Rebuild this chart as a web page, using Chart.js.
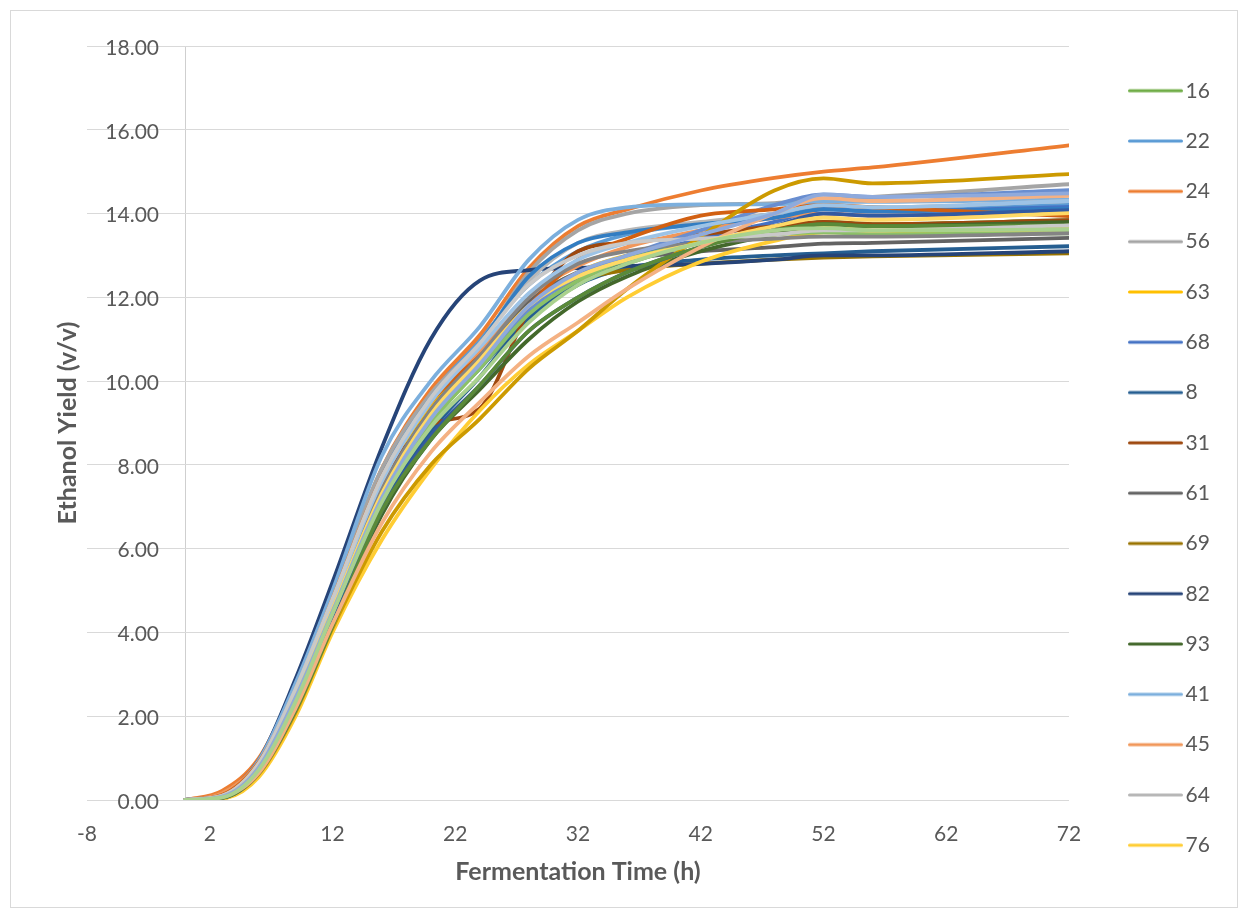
<!DOCTYPE html>
<html>
<head>
<meta charset="utf-8">
<script src="https://cdn.jsdelivr.net/npm/chart.js@4.4.1/dist/chart.umd.min.js"></script>
<style>
  html, body { margin: 0; padding: 0; background: #fff; }
  #wrap { position: relative; width: 1248px; height: 918px; }
  #frame { position: absolute; left: 10px; top: 10px; width: 1226px; height: 896px; border: 1px solid #d9d9d9; }
  #c { position: absolute; left: 0; top: 0; }
</style>
</head>
<body>
<div id="wrap">
  <div id="frame"></div>
  <canvas id="c" width="1248" height="918"></canvas>
</div>
<script>
// sampling times (h)
const times = [0, 3, 6, 9, 12, 16, 20, 24, 28, 32, 36, 42, 48, 52, 56, 72];

// x / y tick labels
const xTicks = [-8, 2, 12, 22, 32, 42, 52, 62, 72];
const yTicks = [0, 2, 4, 6, 8, 10, 12, 14, 16, 18];

// strain names (only the first 16 fit in the legend)
const seriesNames = ['16', '22', '24', '56', '63', '68', '8', '31', '61', '69', '82', '93', '41', '45', '64', '76',
  '27', '35', '12', '47', '50', '88', '90', '19', '39', '52', '77', '15', '58', '73'];

// ethanol yield (v/v) per strain
const s16 = [0, 0.05, 0.7, 2.2, 4.3, 7.1, 9.0, 10.3, 11.5, 12.3, 12.8, 13.3, 13.6, 13.8, 13.75, 13.84];
const s22 = [0, 0.1, 0.85, 2.6, 4.8, 7.8, 9.7, 11.0, 12.3, 13.1, 13.5, 13.75, 14.0, 14.15, 14.1, 14.22];
const s24 = [0, 0.22, 1.0, 2.75, 4.9, 7.9, 9.8, 11.1, 12.7, 13.7, 14.1, 14.55, 14.85, 15.0, 15.1, 15.63];
const s56 = [0, 0.12, 0.95, 2.75, 4.95, 7.9, 9.7, 10.9, 12.6, 13.6, 14.0, 14.2, 14.25, 14.35, 14.4, 14.7];
const s63 = [0, 0.08, 0.8, 2.5, 4.6, 7.5, 9.4, 10.6, 11.9, 12.6, 13.0, 13.3, 13.5, 13.65, 13.6, 13.72];
const s68 = [0, 0.06, 0.72, 2.3, 4.4, 7.2, 9.1, 10.3, 11.6, 12.4, 12.9, 13.4, 13.8, 14.1, 14.05, 14.16];
const s8  = [0, 0.04, 0.62, 2.1, 4.2, 7.0, 8.8, 10.1, 11.5, 12.3, 12.7, 12.9, 13.0, 13.05, 13.1, 13.22];
const s31 = [0, 0.1, 0.85, 2.6, 4.7, 7.6, 8.95, 9.35, 11.7, 13.1, 13.3, 13.5, 13.7, 13.8, 13.75, 13.84];
const s61 = [0, 0.08, 0.8, 2.5, 4.6, 7.4, 9.3, 10.6, 11.9, 12.6, 12.9, 13.1, 13.2, 13.28, 13.3, 13.42];
const s69 = [0, 0.06, 0.75, 2.4, 4.5, 7.3, 9.2, 10.5, 11.8, 12.4, 12.65, 12.8, 12.9, 12.95, 12.98, 13.05];
const s82 = [0, 0.15, 0.95, 2.9, 5.2, 8.4, 11.0, 12.4, 12.65, 12.7, 12.75, 12.8, 12.9, 13.0, 13.0, 13.1];
const s93 = [0, 0.04, 0.62, 2.05, 4.1, 6.8, 8.6, 9.8, 11.0, 11.9, 12.5, 13.1, 13.5, 13.75, 13.7, 13.8];
const s41 = [0, 0.12, 0.95, 2.8, 5.0, 8.2, 10.0, 11.3, 12.9, 13.85, 14.15, 14.22, 14.22, 14.28, 14.28, 14.34];
const s45 = [0, 0.16, 0.9, 2.55, 4.7, 7.6, 9.5, 10.7, 12.0, 12.75, 13.2, 13.6, 13.9, 14.0, 13.95, 14.01];
const s64 = [0, 0.1, 0.88, 2.65, 4.8, 7.7, 9.6, 10.9, 12.4, 13.3, 13.6, 13.8, 14.0, 14.2, 14.15, 14.3];
const s76 = [0, 0.03, 0.55, 2.0, 4.0, 6.2, 7.9, 9.3, 10.4, 11.2, 12.0, 12.85, 13.35, 13.55, 13.55, 13.62];
const s27 = [0, 0.08, 0.78, 2.45, 4.55, 7.3, 9.2, 10.4, 11.7, 12.5, 13.0, 13.6, 14.2, 14.46, 14.4, 14.56];
const s35 = [0, 0.06, 0.72, 2.35, 4.45, 7.2, 9.0, 10.3, 11.6, 12.4, 12.9, 13.3, 13.5, 13.55, 13.5, 13.53];
const s12 = [0, 0.1, 0.85, 2.6, 4.75, 7.7, 9.6, 10.9, 12.5, 13.3, 13.55, 13.75, 13.9, 14.1, 14.05, 14.12];
const s47 = [0, 0.12, 0.9, 2.6, 4.8, 7.7, 9.5, 10.6, 11.8, 12.9, 13.4, 13.95, 14.1, 14.2, 14.15, 13.94];
const s50 = [0, 0.08, 0.8, 2.5, 4.6, 7.4, 9.3, 10.6, 12.0, 12.8, 13.1, 13.3, 13.4, 13.45, 13.45, 13.53];
const s88 = [0, 0.05, 0.62, 2.1, 4.1, 6.4, 8.0, 9.1, 10.3, 11.2, 12.2, 13.45, 14.55, 14.84, 14.72, 14.94];
const s90 = [0, 0.05, 0.65, 2.15, 4.2, 6.9, 8.7, 9.9, 11.2, 12.0, 12.6, 13.2, 13.7, 14.0, 13.95, 14.08];
const s19 = [0, 0.05, 0.65, 2.15, 4.15, 6.9, 8.6, 9.9, 11.2, 12.0, 12.6, 13.2, 13.6, 13.75, 13.7, 13.72];
const s39 = [0, 0.1, 0.85, 2.6, 4.75, 7.6, 9.5, 10.8, 12.1, 12.9, 13.3, 13.7, 14.0, 14.2, 14.15, 14.3];
const s52 = [0, 0.07, 0.65, 2.2, 4.2, 6.6, 8.3, 9.5, 10.6, 11.4, 12.2, 13.2, 14.0, 14.37, 14.3, 14.42];
const s77 = [0, 0.1, 0.88, 2.65, 4.8, 7.7, 9.6, 10.9, 12.3, 13.0, 13.3, 13.4, 13.5, 13.6, 13.6, 13.72];
const s15 = [0, 0.08, 0.78, 2.45, 4.55, 7.3, 9.2, 10.5, 11.8, 12.5, 12.9, 13.3, 13.7, 13.9, 13.85, 14.01];
const s58 = [0, 0.08, 0.78, 2.45, 4.5, 7.2, 9.1, 10.4, 11.8, 12.6, 13.0, 13.5, 14.0, 14.45, 14.4, 14.48];
const s73 = [0, 0.06, 0.72, 2.35, 4.45, 7.1, 8.9, 10.1, 11.4, 12.3, 12.8, 13.3, 13.6, 13.65, 13.6, 13.62];

const seriesValues = [s16, s22, s24, s56, s63, s68, s8, s31, s61, s69, s82, s93, s41, s45, s64, s76,
  s27, s35, s12, s47, s50, s88, s90, s19, s39, s52, s77, s15, s58, s73];

// office-like colour cycle
const palette = ['#70AD47', '#5B9BD5', '#ED7D31', '#A5A5A5', '#FFC000', '#4472C4',
  '#255E91', '#9E480E', '#636363', '#997300', '#264478', '#43682B',
  '#7CAFDD', '#F1975A', '#B7B7B7', '#FFCD33', '#698ED0', '#8CC168',
  '#327DC2', '#D26012', '#848484', '#CC9A00', '#335AA1', '#5A8A39',
  '#9DC3E6', '#F4B183', '#C9C9C9', '#FFD966', '#8FAADC', '#A9D18E'];

const TXT = '#595959';
Chart.defaults.font.family = 'Lato';

const PLOT_LEFT = 87, PLOT_RIGHT = 1069, PLOT_TOP = 46, PLOT_BOTTOM = 800;
const LEG_PAD = 29.3, LEG_FONT = 21, LEG_SHOW = 16;
const LEG_TEXT_X = 1185.5;

const mctx = document.createElement('canvas').getContext('2d');
mctx.font = '21px Lato';
const widestY = Math.max(...yTicks.map(v => mctx.measureText(v.toFixed(2)).width));

// little line swatch for the legend (line 55px long, text sits right after it)
function swatch(color) {
  const cv = document.createElement('canvas');
  cv.width = 73;
  cv.height = 8;
  const g = cv.getContext('2d');
  g.strokeStyle = color;
  g.lineWidth = 3;
  g.lineCap = 'round';
  g.beginPath();
  g.moveTo(1.5, 4);
  g.lineTo(53.5, 4);
  g.stroke();
  return cv;
}
const swatches = palette.map(swatch);

const datasets = seriesNames.map((name, i) => ({
  label: name,
  data: times.map((t, j) => ({ x: t, y: seriesValues[i][j] })),
  borderColor: palette[i],
  backgroundColor: palette[i],
  borderWidth: 3.8,
  borderCapStyle: 'round',
  borderJoinStyle: 'round',
  pointRadius: 0,
  cubicInterpolationMode: 'monotone',
  fill: false,
  order: -i
}));

const legendPlace = {
  id: 'legendPlace',
  beforeLayout(chart) {
    const lg = chart.legend;
    if (lg && !lg._fixed) {
      const fit = lg.fit;
      lg.fit = function () {
        fit.call(this);
        this.width = chart.width - PLOT_RIGHT;
      };
      lg._fixed = true;
    }
  },
  afterLayout(chart) {
    const lg = chart.legend;
    // text x = left + padding + boxWidth + fontSize / 2
    lg.left = LEG_TEXT_X - LEG_FONT - LEG_FONT / 2 - LEG_PAD;
    lg.right = lg.left + lg.width;
    lg.top -= 14;
    lg.bottom -= 14;
  }
};

new Chart(document.getElementById('c'), {
  type: 'line',
  data: { datasets },
  plugins: [legendPlace],
  options: {
    responsive: false,
    animation: false,
    layout: { padding: { top: PLOT_TOP, left: 0, bottom: 0, right: 0 } },
    plugins: {
      tooltip: { enabled: false },
      legend: {
        position: 'right',
        labels: {
          usePointStyle: true,
          boxWidth: LEG_FONT,
          boxHeight: LEG_FONT,
          padding: LEG_PAD,
          color: TXT,
          font: { size: LEG_FONT },
          filter: item => item.datasetIndex < LEG_SHOW,
          sort: (a, b) => a.datasetIndex - b.datasetIndex,
          generateLabels: chart => {
            const items = Chart.defaults.plugins.legend.labels.generateLabels(chart);
            items.forEach(it => { it.pointStyle = swatches[it.datasetIndex]; });
            return items;
          }
        }
      }
    },
    scales: {
      x: {
        type: 'linear',
        min: -8,
        max: 72,
        afterBuildTicks: s => {
          s.ticks = xTicks.concat([0]).sort((a, b) => a - b).map(v => ({ value: v }));
        },
        afterFit: s => { s.height = 918 - PLOT_BOTTOM; },
        border: { display: false },
        grid: {
          drawTicks: false,
          lineWidth: 1,
          color: c => (c.tick && c.tick.value === 0) ? '#cfcfcf' : 'rgba(0,0,0,0)'
        },
        ticks: {
          autoSkip: false,
          maxRotation: 0,
          padding: 22,
          color: TXT,
          font: { size: 21 },
          callback: v => (v === 0 ? '' : v)
        },
        title: {
          display: true,
          text: 'Fermentation Time (h)',
          color: TXT,
          font: { size: 25, weight: 'bold' },
          padding: { top: 0, bottom: 31 }
        }
      },
      y: {
        type: 'linear',
        min: 0,
        max: 18,
        afterBuildTicks: s => { s.ticks = yTicks.map(v => ({ value: v })); },
        afterFit: s => { s.width = PLOT_LEFT; },
        border: { display: false },
        grid: { drawTicks: false, color: '#d9d9d9', lineWidth: 1 },
        ticks: {
          mirror: true,
          crossAlign: 'far',
          padding: 159 - PLOT_LEFT - widestY,
          labelOffset: 2,
          color: TXT,
          font: { size: 21 },
          callback: v => v.toFixed(2)
        },
        title: {
          display: true,
          text: 'Ethanol Yield (v/v)',
          color: TXT,
          font: { size: 25, weight: 'bold' },
          padding: { top: 53, bottom: 0 }
        }
      }
    }
  }
});
</script>
</body>
</html>
